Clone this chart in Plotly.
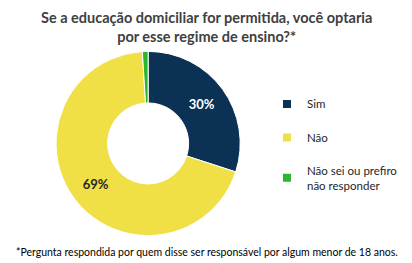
import plotly.graph_objects as go

categories = ["Sim", "Não", "Não sei ou prefiro<br>não responder"]
values = [30, 69, 1]
colors = ["#0B3154", "#F0E046", "#2DB52D"]
text_labels = ["30%", "69%", ""]
text_colors = ["#FFFFFF", "#262626", "#262626"]

title_text = "<b>Se a educação domiciliar for permitida, você optaria<br>por esse regime de ensino?*</b>"
footnote = "*Pergunta respondida por quem disse ser responsável por algum menor de 18 anos."

FONT = "Lato"

fig = go.Figure()
fig.add_trace(go.Pie(
    labels=categories, values=values, hole=0.44, sort=False,
    direction="clockwise", rotation=0,
    marker=dict(colors=colors, line=dict(color="white", width=1)),
    text=text_labels, textinfo="text", textposition="inside",
    insidetextorientation="horizontal",
    textfont=dict(family=FONT, size=13, color=text_colors, weight="bold"),
    showlegend=False, hoverinfo="label+value",
    domain=dict(x=[0.136, 0.583], y=[0.099, 0.81]),
))

for i, (c, col) in enumerate(zip(categories, colors)):
    fig.add_trace(go.Scatter(
        x=[None], y=[None], mode="markers", name=c, legendgroup=str(i),
        marker=dict(symbol="square", size=8, color=col),
    ))

fig.update_layout(
    width=412, height=263, margin=dict(l=0, r=0, t=0, b=0),
    paper_bgcolor="white", plot_bgcolor="white",
    xaxis=dict(visible=False), yaxis=dict(visible=False),
    legend=dict(x=0.648, y=0.66, xanchor="left", yanchor="top",
                tracegroupgap=14.5, itemwidth=30,
                font=dict(family=FONT, size=11.5, color="#262626"),
                bgcolor="rgba(0,0,0,0)"),
    annotations=[
        dict(text=title_text, x=0.5, y=1 - 7 / 263, xref="paper", yref="paper",
             xanchor="center", yanchor="top", showarrow=False, align="center",
             font=dict(family=FONT, size=14.5, color="#404040")),
        dict(text=footnote, x=0.033, y=0.04, xref="paper", yref="paper",
             xanchor="left", yanchor="middle", showarrow=False,
             font=dict(family=FONT, size=10.5, color="#000000")),
    ],
)

fig.write_html("out.html")
